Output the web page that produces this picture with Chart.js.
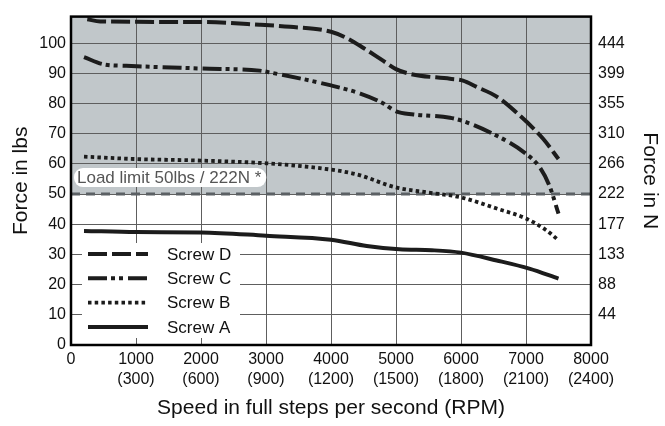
<!DOCTYPE html>
<html><head><meta charset="utf-8">
<script src="https://cdn.jsdelivr.net/npm/chart.js@4.4.1/dist/chart.umd.min.js"></script>
<style>html,body{margin:0;padding:0;background:#fff;overflow:hidden}canvas{display:block}</style>
</head><body>
<canvas id="c" width="665" height="426"></canvas>
<script>
// ---- data ----
const seriesLabels = ['Screw D', 'Screw C', 'Screw B', 'Screw A'];
const speedD = [250, 450, 2000, 2900, 3370, 4000, 4250, 4500, 4800, 5000, 5220, 5830, 6030, 6240, 6550, 6860, 7260, 7500];
const forceD = [107.9, 107.2, 107.0, 106.1, 105.4, 103.8, 101.6, 98.4, 94.2, 91.4, 89.8, 88.2, 87.6, 85.5, 82.3, 76.9, 68.4, 61.6];
const speedC = [200, 500, 850, 2000, 2900, 3060, 4000, 4450, 4800, 5000, 5270, 5830, 6030, 6450, 6960, 7220, 7370, 7500];
const forceC = [95.4, 93.0, 92.5, 91.6, 90.9, 90.3, 86.0, 83.3, 80.1, 77.4, 76.4, 75.3, 74.2, 70.4, 64.0, 58.6, 52.2, 43.5];
const speedB = [200, 1000, 2000, 3000, 4000, 4400, 5000, 5500, 6000, 6550, 7000, 7300, 7500];
const forceB = [62.4, 61.6, 61.1, 60.2, 58.1, 56.5, 52.2, 50.5, 48.9, 45.2, 41.9, 38.2, 34.7];
const speedA = [200, 1000, 2000, 3000, 4000, 4550, 5050, 5550, 6000, 6550, 7050, 7500];
const forceA = [37.8, 37.4, 37.3, 36.2, 34.9, 32.8, 31.7, 31.4, 30.6, 28.0, 25.3, 22.0];
const loadLimit = 50;
const loadLimitText = 'Load limit 50lbs / 222N *';
const xTickValues = [0, 1000, 2000, 3000, 4000, 5000, 6000, 7000, 8000];
const xTickLabels = ['0', ['1000', '(300)'], ['2000', '(600)'], ['3000', '(900)'], ['4000', '(1200)'], ['5000', '(1500)'], ['6000', '(1800)'], ['7000', '(2100)'], ['8000', '(2400)']];
const yTickValues = [0, 10, 20, 30, 40, 50, 60, 70, 80, 90, 100];
const yLeftLabels = ['0', '10', '20', '30', '40', '50', '60', '70', '80', '90', '100'];
const yRightLabels = ['', '44', '88', '133', '177', '222', '266', '310', '355', '399', '444'];
const xTitle = 'Speed in full steps per second (RPM)';
const yLeftTitle = 'Force in lbs';
const yRightTitle = 'Force in N';

// ---- styling ----
const FONT = '"Liberation Sans", Arial, Helvetica, sans-serif';
const INK = '#1c1c1c';
const pts = (xs, ys) => xs.map((x, i) => ({x, y: ys[i]}));
const lineStyle = (label, data, dash, width) => ({
  label, data, borderColor: INK, backgroundColor: INK, borderWidth: width || 4,
  borderDash: dash, borderCapStyle: 'butt', pointRadius: 0, cubicInterpolationMode: 'monotone', fill: false
});

const decor = {
  id: 'decor',
  beforeDraw(chart) {
    const {ctx, chartArea: a, scales: {y}} = chart;
    ctx.save();
    ctx.fillStyle = '#ffffff';
    ctx.fillRect(a.left, a.top, a.width, a.height);
    const yl = y.getPixelForValue(loadLimit);
    ctx.fillStyle = '#c1c7ca';
    ctx.fillRect(a.left, a.top, a.width, yl - a.top);
    ctx.restore();
  },
  beforeDatasetsDraw(chart) {
    const {ctx, chartArea: a, scales: {y}} = chart;
    const yl = y.getPixelForValue(loadLimit);
    ctx.save();
    ctx.strokeStyle = '#5b6064';
    ctx.lineWidth = 3;
    ctx.setLineDash([9, 6]);
    ctx.beginPath(); ctx.moveTo(a.left, yl); ctx.lineTo(a.right, yl); ctx.stroke();
    ctx.setLineDash([]);
    // label
    ctx.font = '17px ' + FONT;
    const w = ctx.measureText(loadLimitText).width;
    const bx = a.left + 3, by = yl - 26, bh = 19, bw = w + 8;
    ctx.fillStyle = '#ffffff';
    ctx.beginPath(); ctx.roundRect(bx, by, bw, bh, 9); ctx.fill();
    ctx.fillStyle = '#555555';
    ctx.textBaseline = 'middle';
    ctx.fillText(loadLimitText, bx + 3, by + bh / 2 + 1);
    ctx.restore();
  },
  afterDatasetsDraw(chart) {
    const {ctx, chartArea: a} = chart;
    ctx.save();
    // legend box
    const lx = a.left + 11, ly = a.bottom - 102;
    ctx.fillStyle = '#ffffff';
    ctx.fillRect(lx, ly, 158, 95);
    ctx.font = '17px ' + FONT;
    ctx.textBaseline = 'middle';
    chart.data.datasets.forEach((ds, i) => {
      const ry = ly + 11 + i * 24.3;
      ctx.strokeStyle = ds.borderColor;
      ctx.lineWidth = ds.borderWidth;
      ctx.lineCap = 'butt';
      ctx.setLineDash(ds.borderDash || []);
      ctx.beginPath(); ctx.moveTo(lx + 6, ry); ctx.lineTo(lx + 66, ry); ctx.stroke();
      ctx.setLineDash([]);
      ctx.fillStyle = '#111';
      ctx.fillText(ds.label, lx + 85, ry + 1);
    });
    // frame
    ctx.strokeStyle = '#000';
    ctx.lineWidth = 2.5;
    ctx.strokeRect(a.left, a.top, a.width, a.height);
    ctx.restore();
  }
};

new Chart(document.getElementById('c'), {
  type: 'line',
  data: {
    datasets: [
      lineStyle(seriesLabels[0], pts(speedD, forceD), [19, 5]),
      lineStyle(seriesLabels[1], pts(speedC, forceC), [19, 4, 4, 4, 4, 5]),
      lineStyle(seriesLabels[2], pts(speedB, forceB), [3.5, 3.2], 3.8),
      lineStyle(seriesLabels[3], pts(speedA, forceA), [])
    ]
  },
  options: {
    responsive: false, animation: false, devicePixelRatio: 1,
    layout: {padding: {top: 8, left: 0, right: 0, bottom: 0}},
    plugins: {legend: {display: false}, tooltip: {enabled: false}},
    scales: {
      x: {
        type: 'linear', min: 0, max: 8000, position: 'bottom',
        afterBuildTicks: s => { s.ticks = xTickValues.map(v => ({value: v})); },
        afterFit: s => { s.height = 81; },
        ticks: {callback: (v, i) => xTickLabels[i], font: {family: FONT, size: 16, lineHeight: 1.25}, color: '#111', padding: 5, maxRotation: 0, autoSkip: false},
        grid: {color: '#5e5e5e', lineWidth: 1, drawTicks: false},
        border: {display: false},
        title: {display: true, text: xTitle, font: {family: FONT, size: 21}, color: '#111', padding: {top: 0, bottom: 5}}
      },
      y: {
        min: 0, max: 108.8, position: 'left',
        afterBuildTicks: s => { s.ticks = yTickValues.map(v => ({value: v})); },
        afterFit: s => { s.width = 71; },
        ticks: {callback: (v, i) => yLeftLabels[i], font: {family: FONT, size: 16}, color: '#111', padding: 5},
        grid: {color: '#5e5e5e', lineWidth: 1, drawTicks: false},
        border: {display: false},
        title: {display: true, text: yLeftTitle, font: {family: FONT, size: 21}, color: '#111', padding: {top: 9, bottom: 0}}
      },
      y2: {
        min: 0, max: 108.8, position: 'right',
        afterBuildTicks: s => { s.ticks = yTickValues.map(v => ({value: v})); },
        afterFit: s => { s.width = 74; },
        ticks: {callback: (v, i) => yRightLabels[i], font: {family: FONT, size: 16}, color: '#111', padding: 7},
        grid: {display: false, drawTicks: false},
        border: {display: false},
        title: {display: true, text: yRightTitle, font: {family: FONT, size: 21}, color: '#111', padding: {top: 3, bottom: 0}}
      }
    }
  },
  plugins: [decor]
});
</script>
</body></html>
